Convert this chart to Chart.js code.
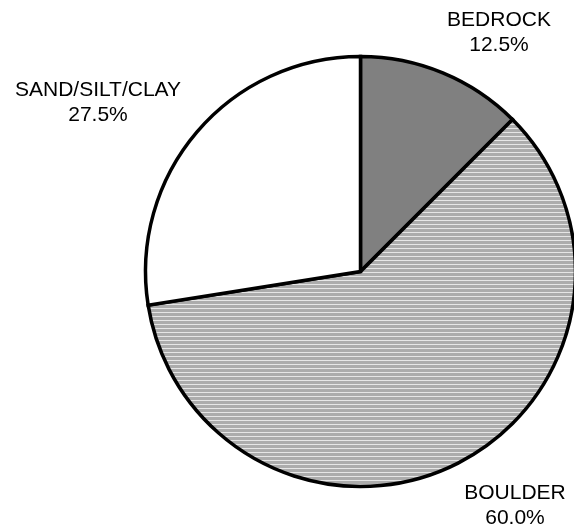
<!DOCTYPE html>
<html>
<head>
<meta charset="utf-8">
<script src="https://cdn.jsdelivr.net/npm/chart.js@4.4.1/dist/chart.umd.min.js"></script>
<style>
  html, body { margin: 0; padding: 0; background: #fff; overflow: hidden; }
  #wrap { position: relative; width: 574px; height: 527px; }
</style>
</head>
<body>
<div id="wrap"><canvas id="pie" width="574" height="527"></canvas></div>
<script>
const categories = ['BEDROCK', 'BOULDER', 'SAND/SILT/CLAY'];
const shares = [12.5, 60.0, 27.5];

// where each two-line label block is centred (x, y)
const labelAnchors = [
  { x: 499, y: 32 },
  { x: 515, y: 505 },
  { x: 98, y: 102 },
];

// horizontal striped fill for the boulder slice
function stripePattern() {
  const c = document.createElement('canvas');
  c.width = 4; c.height = 4;
  const g = c.getContext('2d');
  g.fillStyle = '#acacac';
  g.fillRect(0, 0, 4, 4);
  g.fillStyle = '#e6e6e6';
  g.fillRect(0, 0, 4, 1);
  return g.createPattern(c, 'repeat');
}

const ctx = document.getElementById('pie').getContext('2d');

const sliceLabels = {
  id: 'sliceLabels',
  afterDraw(chart) {
    const total = shares.reduce((a, b) => a + b, 0);
    const c = chart.ctx;
    c.save();
    c.fillStyle = '#000';
    c.font = '21px "Liberation Sans", Arial, sans-serif';
    c.textAlign = 'center';
    c.textBaseline = 'middle';
    categories.forEach((name, i) => {
      const a = labelAnchors[i];
      c.fillText(name, a.x, a.y - 12);
      c.fillText((shares[i] / total * 100).toFixed(1) + '%', a.x, a.y + 13);
    });
    c.restore();
  }
};

new Chart(ctx, {
  type: 'pie',
  data: {
    labels: categories,
    datasets: [{
      data: shares,
      backgroundColor: ['#808080', stripePattern(), '#ffffff'],
      borderColor: '#000',
      borderWidth: 3.5,
      borderJoinStyle: 'miter',
      radius: 215,
      clip: false,
    }]
  },
  options: {
    responsive: false,
    animation: false,
    layout: { padding: { left: 147, right: 0, top: 16, bottom: 0 } },
    plugins: { legend: { display: false }, tooltip: { enabled: false } },
  },
  plugins: [sliceLabels]
});
</script>
</body>
</html>
